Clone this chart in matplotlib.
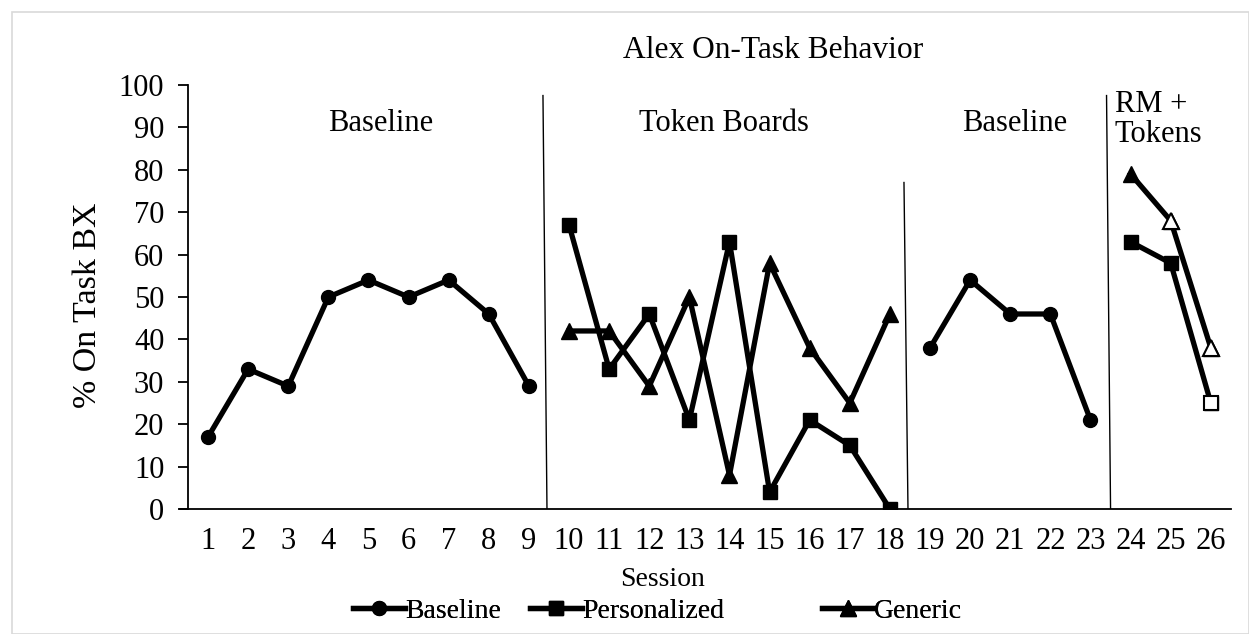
import numpy as np
import matplotlib.pyplot as plt
from matplotlib.patches import Rectangle

plt.rcParams['font.family'] = ['Liberation Serif', 'DejaVu Serif']

sessions = np.arange(1, 27)
nan = np.nan

# values per session, NaN where a series has no point
baseline = [17, 33, 29, 50, 54, 50, 54, 46, 29,
            nan, nan, nan, nan, nan, nan, nan, nan, nan,
            38, 54, 46, 46, 21,
            nan, nan, nan]
personalized = [nan] * 9 + [67, 33, 46, 21, 63, 4, 21, 15, 0] + [nan] * 5 + [63, 58, 25]
generic = [nan] * 9 + [42, 42, 29, 50, 8, 58, 38, 25, 46] + [nan] * 5 + [79, 68, 38]

# sessions drawn with open markers
open_personalized = [26]
open_generic = [25, 26]

phase_lines = [9.4, 18.4, 23.45]
phase_tops = [97.5, 77, 97.5]
phase_names = ['Baseline', 'Token Boards', 'Baseline', 'RM +\nTokens']
phase_x = [5.3, 13.85, 21.1, 23.6]

fs = 22
fig = plt.figure(figsize=(12.49, 6.34), dpi=100)
fig.patches.append(Rectangle((0.0096, 0.0), 0.99, 0.981, transform=fig.transFigure,
                             fill=False, edgecolor='#d9d9d9', linewidth=1.2))
ax = fig.add_axes([0.1505, 0.197, 0.835, 0.669])

lw = 3.8
ms = 10
h1, = ax.plot(sessions, baseline, color='black', lw=lw, marker='o', ms=ms, label='Baseline')
h2, = ax.plot(sessions, personalized, color='black', lw=lw, marker='s', ms=ms, label='Personalized')
h3, = ax.plot(sessions, generic, color='black', lw=lw, marker='^', ms=ms + 1, label='Generic')

pv = [personalized[s - 1] for s in open_personalized]
gv = [generic[s - 1] for s in open_generic]
ax.plot(open_personalized, pv, ls='none', marker='s', ms=ms, mfc='white', mec='black', mew=1.5, zorder=5)
ax.plot(open_generic, gv, ls='none', marker='^', ms=ms + 1, mfc='white', mec='black', mew=1.5, zorder=5)

for xl, top in zip(phase_lines, phase_tops):
    ax.plot([xl - 0.05, xl + 0.05], [top, 0], color='black', lw=1.0)

for name, xp in zip(phase_names, phase_x):
    if '\n' in name:
        ax.text(xp, 98.8, name, ha='left', va='top', fontsize=fs, linespacing=1.05)
    else:
        ax.text(xp, 91, name, ha='center', va='center', fontsize=fs)

fig.text(773 / 1249, 1 - 50 / 634, 'Alex On-Task Behavior', ha='center',
         va='center', fontsize=22.7)

ax.set_xlim(0.5, 26.5)
ax.set_ylim(0, 100)
ax.set_yticks(range(0, 101, 10))
ax.set_xticks(sessions)
ax.tick_params(axis='x', length=0, pad=13, labelsize=fs)
ax.tick_params(axis='y', length=7, width=1.3, pad=10, labelsize=fs)
ax.spines['top'].set_visible(False)
ax.spines['right'].set_visible(False)
ax.spines['left'].set_linewidth(1.3)
ax.spines['bottom'].set_linewidth(1.3)
ax.spines['bottom'].set_bounds(0.3, 26.5)
fig.text(88 / 1249, 1 - 305 / 634, '% On Task BX', ha='center', va='center',
         rotation=90, fontsize=24.5)
fig.text(663 / 1249, 1 - 580 / 634, 'Session', ha='center', va='center', fontsize=20)

# legend entries placed one by one, as in the source chart
for h, left in zip([h1, h2, h3], [353, 530, 822]):
    leg = fig.legend(handles=[h], loc='center left', bbox_to_anchor=(left / 1249, 1 - 611 / 634),
                     frameon=False, fontsize=20, handlelength=1.87, handletextpad=0.0,
                     borderpad=0, borderaxespad=0)
    fig.add_artist(leg)

fig.savefig('out.png', dpi=100)
